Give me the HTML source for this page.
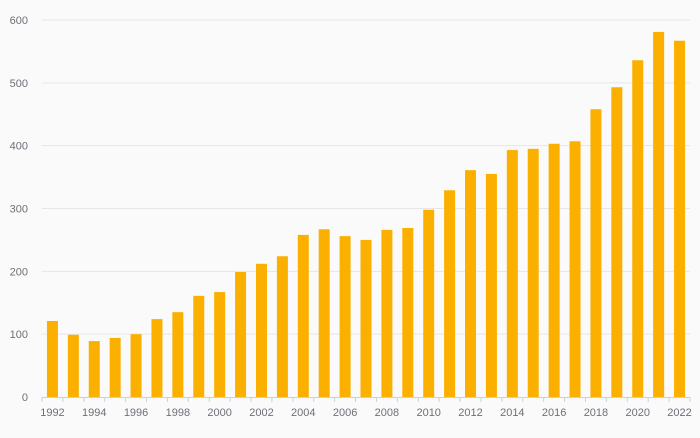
<!DOCTYPE html>
<html><head><meta charset="utf-8"><style>
body{margin:0;background:#fafafa;}
svg text{font-family:"Liberation Sans",sans-serif;font-size:11px;fill:#6e7079;}
</style></head><body>
<svg id="chart" width="700" height="433" xmlns="http://www.w3.org/2000/svg">
<rect width="700" height="433" fill="#fafafa"/>
<g id="grid"></g><g id="bars"></g><g id="axes"></g>
</svg>
<script>
const years=[1992,1993,1994,1995,1996,1997,1998,1999,2000,2001,2002,2003,2004,2005,2006,2007,2008,2009,2010,2011,2012,2013,2014,2015,2016,2017,2018,2019,2020,2021,2022];
const values=[121,99,89,94,100,124,135,161,167,199,212,224,258,267,256,250,266,269,298,329,361,355,393,395,403,407,458,493,536,581,567];
const yTicks=[0,100,200,300,400,500,600];
const NS="http://www.w3.org/2000/svg";
const x0=42,x1=690,y0=397,y1=20,yMax=600;
const band=(x1-x0)/years.length;
const yS=v=>y0-(v/yMax)*(y0-y1);
const xS=i=>x0+i*band;
function mk(tag,attrs,parent){const e=document.createElementNS(NS,tag);for(const k in attrs)e.setAttribute(k,attrs[k]);parent.appendChild(e);return e;}
const grid=document.getElementById('grid'),bars=document.getElementById('bars'),axes=document.getElementById('axes');
yTicks.forEach(t=>{
  if(t>0){const l=mk('line',{x1:x0,x2:x1,y1:yS(t),y2:yS(t),stroke:'#e6e6e6','stroke-width':1},grid);
  
  }
  const tx=mk('text',{x:28,y:yS(t)+4,'text-anchor':'end'},axes);tx.textContent=t;
  
  
});
values.forEach((v,i)=>{
  const w=11;
  const r=mk('rect',{x:xS(i)+band/2-w/2,y:yS(v),width:w,height:y0-yS(v),fill:'#fbb000'},bars);
  
  
});
const ax=mk('line',{x1:x0,x2:x1,y1:y0+0.5,y2:y0+0.5,stroke:'#c6d1e3','stroke-width':1},axes);


for(let i=0;i<=years.length;i++){
  const tk=mk('line',{x1:xS(i),x2:xS(i),y1:y0,y2:y0+5,stroke:'#c6d1e3'},axes);
  
  
}
years.forEach((y,i)=>{
  if(i%2)return;
  const tx=mk('text',{x:xS(i)+band/2,y:y0+19,'text-anchor':'middle'},axes);tx.textContent=y;
  
  
});
</script>
</body></html>
